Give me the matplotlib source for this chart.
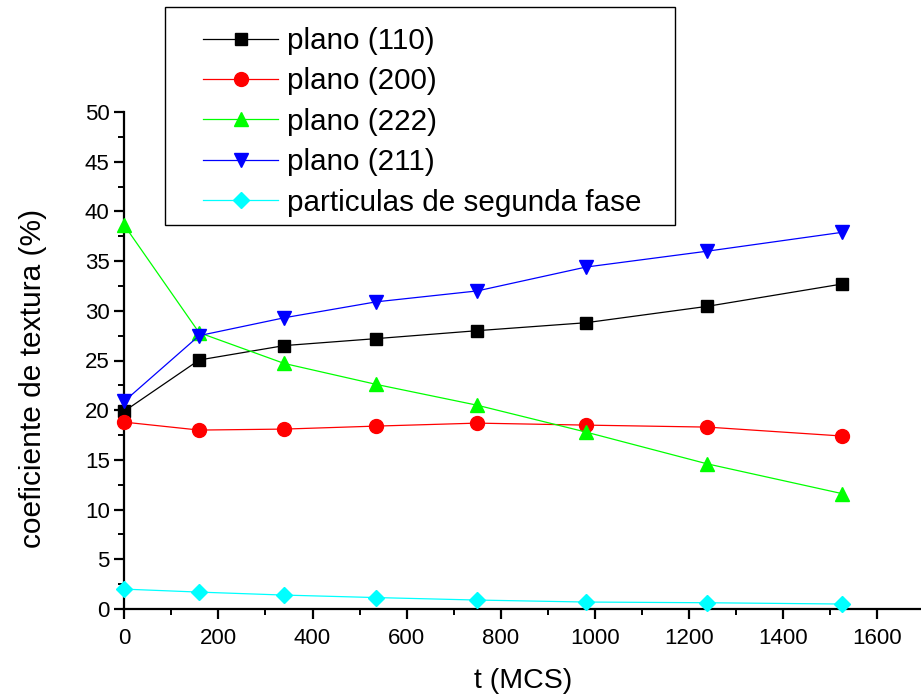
import matplotlib
matplotlib.use("Agg")
import matplotlib.pyplot as plt
from matplotlib.patches import Rectangle
from matplotlib.ticker import MultipleLocator

plt.rcParams['font.family'] = ['Liberation Sans', 'DejaVu Sans']

# Monte Carlo time (MCS)
t_mcs = [0, 159, 340, 535, 750, 981, 1239, 1526]

plano_110 = [19.9, 25.05, 26.5, 27.2, 28.0, 28.8, 30.45, 32.7]
plano_200 = [18.8, 18.0, 18.1, 18.4, 18.7, 18.5, 18.3, 17.4]
plano_222 = [38.6, 27.8, 24.7, 22.6, 20.5, 17.8, 14.6, 11.6]
plano_211 = [20.9, 27.5, 29.3, 30.9, 32.0, 34.4, 36.0, 37.9]
particulas = [2.0, 1.7, 1.4, 1.15, 0.9, 0.7, 0.63, 0.5]

series = [
    ("plano (110)", plano_110, "black", "s", 9),
    ("plano (200)", plano_200, "red", "o", 10),
    ("plano (222)", plano_222, "#00ff00", "^", 10),
    ("plano (211)", plano_211, "blue", "v", 10),
    ("particulas de segunda fase", particulas, "cyan", "D", 8.5),
]

W, H = 921, 694
fig = plt.figure(figsize=(W / 100, H / 100), dpi=100)
left, right, top, bottom = 124.3, 921, 112, 609
ax = fig.add_axes([left / W, 1 - bottom / H, (right - left) / W, (bottom - top) / H])

handles = []
for label, vals, color, marker, ms in series:
    h, = ax.plot(t_mcs, vals, color=color, lw=0.9, marker=marker, ms=ms,
                 markeredgecolor=color, label=label, clip_on=False, zorder=3)
    handles.append(h)

ax.set_xlim(0, 1693)
ax.set_ylim(0, 50)
ax.xaxis.set_major_locator(MultipleLocator(200))
ax.xaxis.set_minor_locator(MultipleLocator(100))
ax.yaxis.set_major_locator(MultipleLocator(5))
ax.yaxis.set_minor_locator(MultipleLocator(2.5))

for s in ("top", "right"):
    ax.spines[s].set_visible(False)
for s in ("left", "bottom"):
    ax.spines[s].set_linewidth(1.6)

ax.tick_params(which="major", direction="out", length=7.5, width=1.6,
               labelsize=16, pad=3)
ax.tick_params(axis="x", which="major", pad=6)
ax.tick_params(which="minor", direction="out", length=4, width=1.4)

ax.set_xlabel("t (MCS)", fontsize=20.5, labelpad=14)
ax.set_ylabel("coeficiente de textura (%)", fontsize=21.5, labelpad=27)
ax.yaxis.label.set_y(0.463)

# legend box drawn separately so the inner padding can be set freely
box_l, box_t, box_r, box_b = 165, 7, 675, 225
fig.patches.append(Rectangle((box_l / W, 1 - box_b / H),
                             (box_r - box_l) / W, (box_b - box_t) / H,
                             transform=fig.transFigure, fill=True,
                             facecolor="white", edgecolor="black", lw=1.0,
                             zorder=1))

leg = fig.legend(handles=handles, loc="upper left",
                 bbox_to_anchor=(203 / W, 1 - 27 / H),
                 fontsize=21.3, frameon=False, handlelength=2.55,
                 handletextpad=0.3, labelspacing=0.42, borderpad=0,
                 borderaxespad=0)

fig.savefig("out.png", dpi=100)
